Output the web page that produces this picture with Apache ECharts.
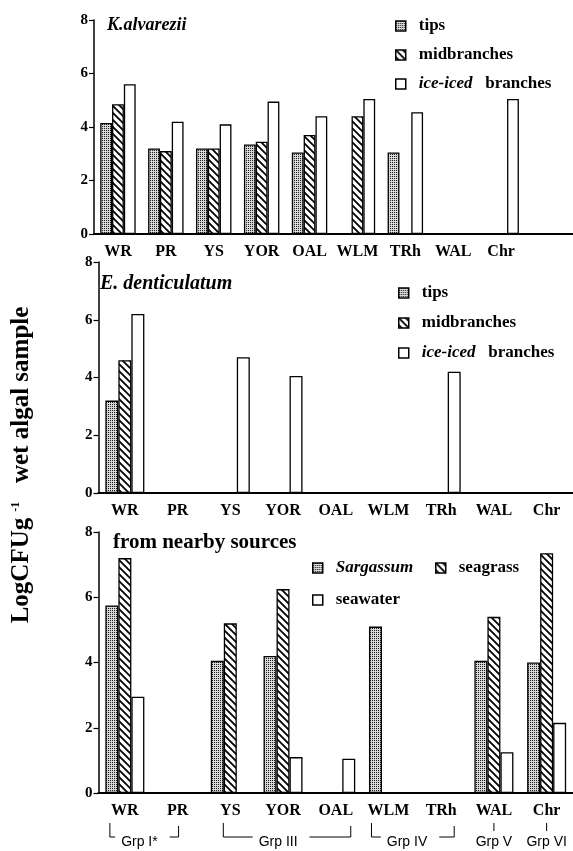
<!DOCTYPE html>
<html>
<head>
<meta charset="utf-8">
<script src="https://cdn.jsdelivr.net/npm/echarts@6/dist/echarts.min.js"></script>
<style>
html,body{margin:0;padding:0;background:#fff;}
#chart{width:573px;height:851px;}
</style>
</head>
<body>
<div id="chart"></div>
<script>
// ---- data ----
const categories = ['WR', 'PR', 'YS', 'YOR', 'OAL', 'WLM', 'TRh', 'WAL', 'Chr'];
const categoriesTop = ['WR', 'PR', 'YS', 'YOR', 'OAL', 'WLM', 'TRh', 'WAL', 'Chr', ''];
const yTicks = [0, 2, 4, 6, 8];

// K. alvarezii
const kTips = [4.15, 3.2, 3.2, 3.35, 3.05, null, 3.05, null, null];
const kMid  = [4.85, 3.1, 3.2, 3.45, 3.7, 4.4, null, null, null];
const kIce  = [5.6, 4.2, 4.1, 4.95, 4.4, 5.05, 4.55, null, 5.05];

// E. denticulatum
const eTips = [3.2, null, null, null, null, null, null, null, null];
const eMid  = [4.6, null, null, null, null, null, null, null, null];
const eIce  = [6.2, null, 4.7, 4.05, null, null, 4.2, null, null];

// from nearby sources
const sSargassum = [5.75, null, 4.05, 4.2, null, 5.1, null, 4.05, 4.0];
const sSeagrass  = [7.2, null, 5.2, 6.25, null, null, null, 5.4, 7.35];
const sSeawater  = [2.95, null, null, 1.1, 1.05, null, null, 1.25, 2.15];

const groups = [
  {label: 'Grp I*', from: 'WR', to: 'PR', type: 'bracket', dl: -15, dr: 1},
  {label: 'Grp III', from: 'YS', to: 'OAL', type: 'bracket', dl: -7, dr: 15},
  {label: 'Grp IV', from: 'WLM', to: 'TRh', type: 'bracket', dl: -17, dr: 13},
  {label: 'Grp V', from: 'WAL', type: 'single'},
  {label: 'Grp VI', from: 'Chr', type: 'single'}
];

// ---- patterns ----
function stipple() {
  const c = document.createElement('canvas');
  c.width = 2; c.height = 2;
  const g = c.getContext('2d');
  g.fillStyle = '#d8d8d8'; g.fillRect(0, 0, 2, 2);
  g.fillStyle = '#1a1a1a'; g.fillRect(0, 0, 1, 1);
  return {image: c, repeat: 'repeat'};
}
function hatch() {
  const s = 7;
  const c = document.createElement('canvas');
  c.width = s; c.height = s;
  const g = c.getContext('2d');
  g.fillStyle = '#fff'; g.fillRect(0, 0, s, s);
  g.strokeStyle = '#000'; g.lineWidth = 1.8;
  g.beginPath();
  g.moveTo(-1, -1); g.lineTo(s + 1, s + 1);
  g.moveTo(-2, s - 2); g.lineTo(2, s + 2);
  g.moveTo(s - 2, -2); g.lineTo(s + 2, 2);
  g.stroke();
  return {image: c, repeat: 'repeat'};
}
const PAT_DOT = stipple();
const PAT_HATCH = hatch();
const SERIF = 'Liberation Serif';
const SANS = 'Liberation Sans';

const styles = [
  {color: PAT_DOT, borderColor: '#000', borderWidth: 1.3},
  {color: PAT_HATCH, borderColor: '#000', borderWidth: 1.3},
  {color: '#fff', borderColor: '#000', borderWidth: 1.3}
];

function mkSeries(name, data, idx, styleIdx) {
  return {
    type: 'bar', name: name, data: data,
    xAxisIndex: idx, yAxisIndex: idx,
    barGap: '0%', barCategoryGap: '26%',
    itemStyle: styles[styleIdx],
    emphasis: {disabled: true},
    animation: false
  };
}

function xAxis(idx, data) {
  return {
    type: 'category', gridIndex: idx, data: data,
    axisLine: {lineStyle: {color: '#000', width: 2}},
    axisTick: {alignWithLabel: true, length: 4, lineStyle: {color: '#000', width: 1}},
    axisLabel: {color: '#000', fontFamily: SERIF, fontWeight: 'bold', fontSize: 16, margin: 10, interval: 0},
    splitLine: {show: false}
  };
}
function yAxis(idx) {
  return {
    type: 'value', gridIndex: idx, min: 0, max: 8, interval: 2,
    axisLine: {show: true, lineStyle: {color: '#000', width: 1.5}},
    axisTick: {show: true, length: 5, lineStyle: {color: '#000', width: 1.2}},
    axisLabel: {color: '#000', fontFamily: SERIF, fontWeight: 'bold', fontSize: 15, margin: 6,
      formatter: v => yTicks.indexOf(v) >= 0 ? String(v) : ''},
    splitLine: {show: false}
  };
}

const legendText = {
  color: '#000', fontFamily: SERIF, fontWeight: 'bold', fontSize: 17, lineHeight: 18,
  padding: [0, 0, 0, 8],
  rich: {i: {fontStyle: 'italic', fontWeight: 'bold', fontFamily: SERIF, fontSize: 17, color: '#000'},
         n: {fontWeight: 'bold', fontFamily: SERIF, fontSize: 17, color: '#000'}}
};
function legendFormatter(name) {
  if (name === 'ice-iced branches') return '{i|ice-iced}   {n|branches}';
  if (name === 'Sargassum') return '{i|Sargassum}';
  return name;
}
function legend(data, left, top, gap) {
  return {
    data: data, left: left, top: top, orient: 'vertical', padding: 0,
    itemGap: gap, itemWidth: 10, itemHeight: 10, icon: 'rect',
    itemStyle: {borderColor: '#000', borderWidth: 1.5},
    textStyle: legendText, formatter: legendFormatter,
    selectedMode: false
  };
}

const chart = echarts.init(document.getElementById('chart'), null, {renderer: 'canvas'});
const option = {
  backgroundColor: '#fff',
  animation: false,
  title: [
    {text: 'K.alvarezii', left: 107, top: 16, padding: 0,
     textStyle: {fontFamily: SERIF, fontStyle: 'italic', fontWeight: 'bold', fontSize: 18, color: '#000'}},
    {text: 'E. denticulatum', left: 100, top: 274, padding: 0,
     textStyle: {fontFamily: SERIF, fontStyle: 'italic', fontWeight: 'bold', fontSize: 20, color: '#000'}},
    {text: 'from nearby sources', left: 113, top: 532, padding: 0,
     textStyle: {fontFamily: SERIF, fontWeight: 'bold', fontSize: 21, color: '#000'}}
  ],
  legend: [
    legend(['tips', 'midbranches', 'ice-iced branches'], 395, 17, 11),
    legend(['tips', 'midbranches', 'ice-iced branches'], 398, 284, 12),
    legend(['Sargassum', 'seawater'], 312, 559, 14),
    legend(['seagrass'], 435, 559, 14)
  ],
  grid: [
    {left: 94, top: 20, width: 482.5, height: 214},
    {left: 98.5, top: 262, width: 478, height: 231},
    {left: 98.5, top: 532, width: 478, height: 261}
  ],
  xAxis: [xAxis(0, categoriesTop), xAxis(1, categories), xAxis(2, categories)],
  yAxis: [yAxis(0), yAxis(1), yAxis(2)],
  series: [
    mkSeries('tips', kTips.concat([null]), 0, 0),
    mkSeries('midbranches', kMid.concat([null]), 0, 1),
    mkSeries('ice-iced branches', kIce.concat([null]), 0, 2),
    mkSeries('tips', eTips, 1, 0),
    mkSeries('midbranches', eMid, 1, 1),
    mkSeries('ice-iced branches', eIce, 1, 2),
    mkSeries('Sargassum', sSargassum, 2, 0),
    mkSeries('seagrass', sSeagrass, 2, 1),
    mkSeries('seawater', sSeawater, 2, 2)
  ]
};
chart.setOption(option);

// y-axis name + group brackets (annotations placed from axis positions)
const graphics = [];
graphics.push({
  type: 'text', x: 22, y: 465, rotation: Math.PI / 2,
  style: {
    text: '{a|LogCFUg}{s|  -1}{a|   wet algal sample}',
    align: 'center', verticalAlign: 'middle',
    rich: {
      a: {fontFamily: SERIF, fontWeight: 'bold', fontSize: 25, fill: '#000'},
      s: {fontFamily: SERIF, fontWeight: 'bold', fontSize: 12, fill: '#000', padding: [0, 0, 12, 0]}
    }
  }
});
const measureCtx = document.createElement('canvas').getContext('2d');
measureCtx.font = '14px ' + SANS;
const cx = name => chart.convertToPixel({xAxisIndex: 2}, name);
const yTop = 823, yLine = 837, yText = 842;
const lineStyle = {stroke: '#000', lineWidth: 1};
const textStyleG = t => ({text: t, fontFamily: SANS, fontSize: 14, fill: '#000', align: 'center', verticalAlign: 'middle'});
groups.forEach(g => {
  if (g.type === 'bracket') {
    const x1 = cx(g.from) + g.dl, x2 = cx(g.to) + g.dr;
    const mid = x1 + (x2 - x1) * 0.43;
    const half = measureCtx.measureText(g.label).width / 2 + 6;
    graphics.push({type: 'text', x: mid, y: yText, style: textStyleG(g.label)});
    graphics.push({type: 'polyline', shape: {points: [[x1, yTop], [x1, yLine], [mid - half, yLine]]}, style: lineStyle});
    graphics.push({type: 'polyline', shape: {points: [[mid + half + 6, yLine], [x2, yLine], [x2, yTop + 3]]}, style: lineStyle});
  } else {
    const x = cx(g.from);
    graphics.push({type: 'line', shape: {x1: x, y1: yTop, x2: x, y2: yTop + 8}, style: lineStyle});
    graphics.push({type: 'text', x: x, y: yText, style: textStyleG(g.label)});
  }
});
chart.setOption({graphic: graphics});
</script>
</body>
</html>
